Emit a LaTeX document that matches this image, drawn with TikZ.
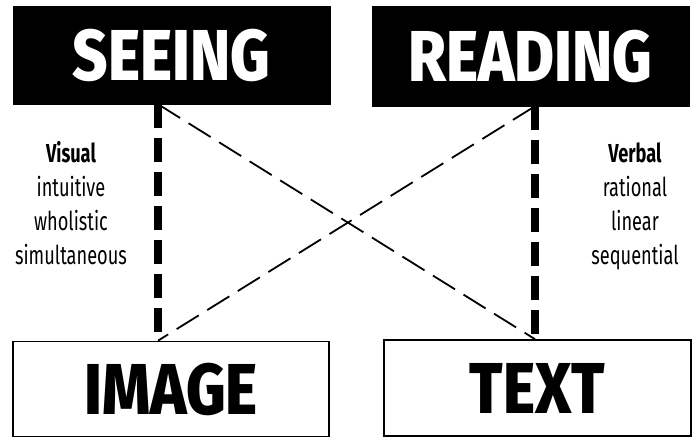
\documentclass[tikz,border=0pt]{standalone}
\usepackage{fontspec}
\setmainfont{Fira Sans}[FakeStretch=0.7]
\newfontfamily\headfont{Fira Sans ExtraBold}[FakeStretch=0.85]
\usetikzlibrary{positioning}
\definecolor{inkblack}{RGB}{0,0,0}
\tikzset{
  head/.style={fill=inkblack, draw=inkblack, text=white, inner sep=0pt,
               minimum width=317pt, minimum height=98pt,
               font=\headfont\fontsize{72}{72}\selectfont},
  base/.style={draw=inkblack, line width=1.6pt, fill=white, text=inkblack,
               inner sep=0pt, minimum width=316pt, minimum height=95pt,
               font=\headfont\fontsize{72}{72}\selectfont},
  split/.style={line width=8pt, dash pattern=on 24pt off 10pt},
  cross/.style={line width=1.8pt, dash pattern=on 26pt off 10pt},
  lbl/.style={align=center, font=\fontsize{26}{34}\selectfont},
}

\begin{document}
\begin{tikzpicture}[x=1pt, y=1pt]
\useasboundingbox (0,0) rectangle (700,439);
\node[head] (seeing) at (171.5,384) {SEEING};
\node[head, minimum height=100pt] (reading) at (530.5,383) {READING};
\node[base] (image) at (171,50) {IMAGE};
\node[base, minimum width=307pt, minimum height=96pt] (text) at (537.5,51) {TEXT};
\coordinate (lx) at (158,0);
\coordinate (rx) at (535,0);
% the two sides
\draw[split] (seeing.south -| lx) -- (image.north -| lx);
\draw[split] (reading.south -| rx) -- (text.north -| rx);
% crossing links
\draw[cross] (seeing.south -| lx) -- (text.north -| rx);
\draw[cross] (reading.south -| rx) -- (image.north -| lx);
\node[lbl] (visual) at (71,236) {\textbf{Visual}\\intuitive\\wholistic\\simultaneous};
\node[lbl] (verbal) at (635,233) {\textbf{Verbal}\\rational\\linear\\sequential};
\end{tikzpicture}
\end{document}
